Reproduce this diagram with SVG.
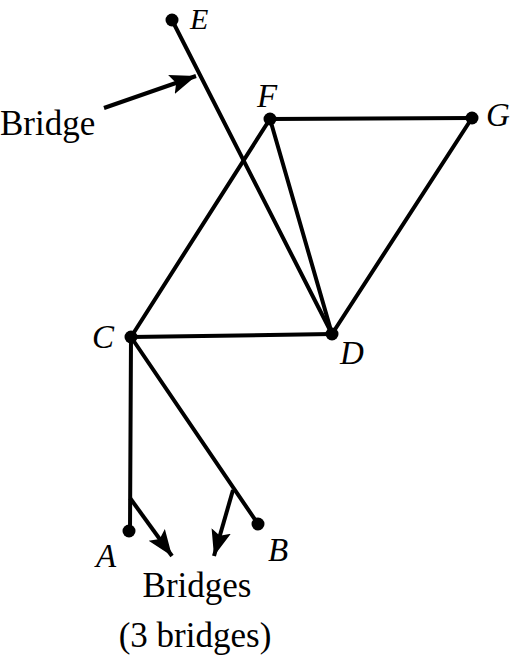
<svg xmlns="http://www.w3.org/2000/svg" width="513" height="661" viewBox="0 0 513 661">
<style>
.edge{stroke:#000;stroke-width:4;fill:none;stroke-linecap:round}
.ptr{stroke:#000;stroke-width:4;fill:none;marker-end:url(#ah)}
.dot{fill:#000}
.lbl{font-family:"Liberation Serif","Times New Roman",serif;font-style:italic;font-size:33px;fill:#000}
.txt{font-family:"Liberation Serif","Times New Roman",serif;font-size:35px;fill:#000}
</style>
<defs>
<marker id="ah" markerUnits="userSpaceOnUse" markerWidth="28" markerHeight="22" refX="26" refY="10" orient="auto" viewBox="0 0 28 20">
<polygon points="0,0 26,10 0,20 5,10" fill="#000"/>
</marker>
</defs>
<rect width="513" height="661" fill="#fff"/>
<g id="connectors">
<line class="edge" x1="172" y1="20" x2="332" y2="334"/>
<line class="edge" x1="270" y1="119" x2="472" y2="118"/>
<line class="edge" x1="270" y1="119" x2="332" y2="334"/>
<line class="edge" x1="472" y1="118" x2="332" y2="334"/>
<line class="edge" x1="270" y1="119" x2="131" y2="337"/>
<line class="edge" x1="131" y1="337" x2="332" y2="334"/>
<line class="edge" x1="131" y1="337" x2="130" y2="531"/>
<line class="edge" x1="131" y1="337" x2="258" y2="524"/>
<line class="ptr" x1="104" y1="108" x2="196" y2="76"/>
<line class="ptr" x1="130" y1="498" x2="172" y2="556"/>
<line class="ptr" x1="233" y1="490" x2="214" y2="556"/>
</g>
<g id="node-E"><circle class="dot" cx="172" cy="20" r="6.5"/><text class="lbl" x="190" y="29" style="font-size:30px">E</text></g>
<g id="node-F"><circle class="dot" cx="270" cy="119" r="6.5"/><text class="lbl" x="257" y="107">F</text></g>
<g id="node-G"><circle class="dot" cx="472" cy="118" r="6.5"/><text class="lbl" x="486" y="126">G</text></g>
<g id="node-C"><circle class="dot" cx="131" cy="337" r="6.5"/><text class="lbl" x="92" y="348">C</text></g>
<g id="node-D"><circle class="dot" cx="332" cy="334" r="6.5"/><text class="lbl" x="340" y="364">D</text></g>
<g id="node-A"><circle class="dot" cx="129" cy="531" r="6.5"/><text class="lbl" x="96" y="567">A</text></g>
<g id="node-B"><circle class="dot" cx="258" cy="524" r="6.5"/><text class="lbl" x="268" y="561">B</text></g>
<g id="labels">
<text class="txt" x="0" y="135">Bridge</text>
<text class="txt" x="197" y="597" text-anchor="middle">Bridges</text>
<text class="txt" x="195" y="647" text-anchor="middle">(3 bridges)</text>
</g>
</svg>
